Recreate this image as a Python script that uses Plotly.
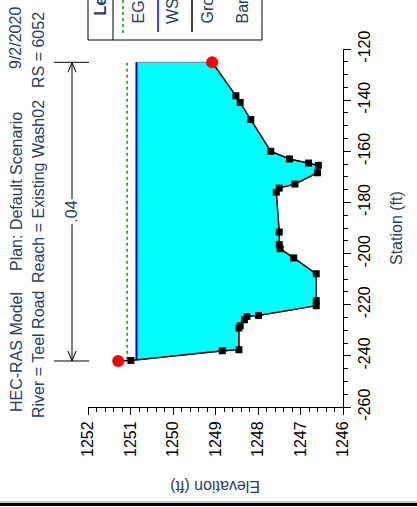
import numpy as np
import plotly.graph_objects as go

# ---------------- data ----------------
station = [-242.0, -241.8, -238.0, -237.6, -229.1, -228.2, -225.9, -224.6, -224.2,
           -220.4, -218.4, -207.9, -201.7, -198.1, -196.5, -191.6, -176.0, -174.4,
           -172.8, -168.4, -165.5, -164.6, -163.0, -160.0, -147.6, -140.9, -138.3, -125.2]
elevation = [1251.29, 1250.99, 1248.84, 1248.45, 1248.45, 1248.42, 1248.32, 1248.26, 1247.99,
             1246.63, 1246.63, 1246.63, 1247.16, 1247.48, 1247.50, 1247.50, 1247.57, 1247.50,
             1247.13, 1246.60, 1246.58, 1246.81, 1247.26, 1247.70, 1248.17, 1248.42, 1248.52, 1249.08]
bank_station = [-242.0, -125.2]
bank_elevation = [1251.29, 1249.08]
ws_elev = 1250.86
eg_elev = 1251.08
n_value_label = ".04"
elev_ticks = [1246, 1247, 1248, 1249, 1250, 1251, 1252]
station_ticks = [-260, -240, -220, -200, -180, -160, -140, -120]
title_line1 = ["HEC-RAS Model", "Plan: Default Scenario", "9/2/2020"]
title_line2 = ["River = Teel Road", "Reach = Existing Wash02", "RS = 6052"]
legend_labels = ["EG", "WS", "Ground", "Bank Sta"]

# ---------------- layout geometry ----------------
W, H = 417, 507
ML, MR, MT, MB = 88, 74, 49, 100
PW, PH = W - ML - MR, H - MT - MB
x_range = [1252, 1246]
y_range = [-260, -120]
FONT = "Liberation Sans, Arial, sans-serif"


def pxx(px):  # pixel x -> paper x
    return (px - ML) / PW


def pxy(py):  # pixel y -> paper y
    return (H - MB - py) / PH


def sta_paper(s):
    return (s - y_range[0]) / (y_range[1] - y_range[0])


# water surface intersection with ground (left end)
st = np.array(station)
el = np.array(elevation)
i = int(np.where(el < ws_elev)[0][0])
s_int = st[i - 1] + (ws_elev - el[i - 1]) * (st[i] - st[i - 1]) / (el[i] - el[i - 1])
fill_st = [s_int] + list(st[i:]) + [st[-1], s_int]
fill_el = [ws_elev] + list(el[i:]) + [ws_elev, ws_elev]

fig = go.Figure()
fig.add_trace(go.Scatter(x=fill_el, y=fill_st, mode="lines", fill="toself",
                         fillcolor="#00FFFF", line=dict(color="#808080", width=1),
                         hoverinfo="skip", showlegend=False))
fig.add_trace(go.Scatter(x=[eg_elev, eg_elev], y=[s_int, st[-1]], mode="lines",
                         line=dict(color="#00A000", width=1.5, dash="dot"), showlegend=False))
fig.add_trace(go.Scatter(x=[ws_elev, ws_elev], y=[s_int, st[-1]], mode="lines",
                         line=dict(color="#0000FF", width=2), showlegend=False))
fig.add_trace(go.Scatter(x=elevation, y=station, mode="lines+markers",
                         line=dict(color="black", width=1.5),
                         marker=dict(symbol="square", size=7, color="black"), showlegend=False))
fig.add_trace(go.Scatter(x=bank_elevation, y=bank_station, mode="markers",
                         marker=dict(symbol="circle", size=12, color="#FF0000"),
                         showlegend=False, cliponaxis=False))

tickfont = dict(family=FONT, size=16, color="black")
fig.update_layout(
    width=W, height=H, margin=dict(l=ML, r=MR, t=MT, b=MB),
    paper_bgcolor="white", plot_bgcolor="white", showlegend=False,
    xaxis=dict(range=x_range, tickvals=elev_ticks, ticktext=[str(v) for v in elev_ticks],
               tickangle=-90, ticks="outside", ticklen=7, tickcolor="black",
               showline=True, linecolor="black", linewidth=1, showgrid=False, zeroline=False,
               minor=dict(dtick=0.2, ticks="outside", ticklen=4, tickcolor="black"),
               tickfont=tickfont),
    yaxis=dict(range=y_range, tickvals=station_ticks, ticktext=[str(v) for v in station_ticks],
               side="right", tickangle=-90, ticks="outside", ticklen=7, tickcolor="black",
               showline=True, linecolor="black", linewidth=1, showgrid=False, zeroline=False,
               minor=dict(dtick=5, ticks="outside", ticklen=4, tickcolor="black"),
               tickfont=tickfont),
)

ann = []
shapes = []
# axis titles
ann.append(dict(text="Station (ft)", x=pxx(396), y=0.5, xref="paper", yref="paper",
                textangle=-90, showarrow=False, font=dict(family=FONT, size=16),
                xanchor="center", yanchor="middle"))
ann.append(dict(text="Elevation (ft)", x=0.5, y=pxy(487), xref="paper", yref="paper",
                textangle=180, showarrow=False, font=dict(family=FONT, size=16),
                xanchor="center", yanchor="middle"))
# title lines (rotated)
for txt, yc in zip(title_line1, [352, 192, 38]):
    ann.append(dict(text=txt, x=pxx(16), y=pxy(yc), xref="paper", yref="paper",
                    textangle=-90, showarrow=False, font=dict(family=FONT, size=16),
                    xanchor="center", yanchor="middle"))
for txt, yc in zip(title_line2, [355, 192, 50]):
    ann.append(dict(text=txt, x=pxx(38), y=pxy(yc), xref="paper", yref="paper",
                    textangle=-90, showarrow=False, font=dict(family=FONT, size=16),
                    xanchor="center", yanchor="middle"))

# n-value dimension line
nx = pxx(72)
y_lo = sta_paper(min(station))
y_hi = sta_paper(max(station))
shapes.append(dict(type="line", xref="paper", yref="paper", x0=nx, x1=nx, y0=y_lo, y1=y_hi,
                   line=dict(color="black", width=1)))
for yy in (y_lo, y_hi):
    shapes.append(dict(type="line", xref="paper", yref="paper", x0=pxx(54), x1=pxx(89),
                       y0=yy, y1=yy, line=dict(color="black", width=1)))
shapes.append(dict(type="path", xref="paper", yref="paper", xsizemode="pixel", ysizemode="pixel",
                   xanchor=nx, yanchor=y_lo, path="M-4,10 L0,0 L4,10",
                   line=dict(color="black", width=1)))
shapes.append(dict(type="path", xref="paper", yref="paper", xsizemode="pixel", ysizemode="pixel",
                   xanchor=nx, yanchor=y_hi, path="M-4,-10 L0,0 L4,-10",
                   line=dict(color="black", width=1)))
ann.append(dict(text=n_value_label, x=nx, y=(y_lo + y_hi) / 2, xref="paper", yref="paper",
                textangle=-90, showarrow=False, font=dict(family=FONT, size=16),
                bgcolor="white", xanchor="center", yanchor="middle"))

# legend box (partially off the top edge)
shapes.append(dict(type="rect", xref="paper", yref="paper", x0=pxx(88), x1=pxx(262),
                   y0=pxy(40), y1=pxy(-20), line=dict(color="black", width=1), fillcolor="white"))
shapes.append(dict(type="line", xref="paper", yref="paper", x0=pxx(113), x1=pxx(113),
                   y0=pxy(40), y1=pxy(-20), line=dict(color="black", width=1)))
shapes.append(dict(type="line", xref="paper", yref="paper", x0=pxx(123), x1=pxx(123),
                   y0=pxy(33), y1=pxy(-5), line=dict(color="#00A000", width=1.5, dash="dot")))
shapes.append(dict(type="line", xref="paper", yref="paper", x0=pxx(158), x1=pxx(158),
                   y0=pxy(32), y1=pxy(-5), line=dict(color="#0000FF", width=1.5)))
shapes.append(dict(type="line", xref="paper", yref="paper", x0=pxx(192), x1=pxx(192),
                   y0=pxy(32), y1=pxy(-5), line=dict(color="black", width=1.5)))
ann.append(dict(text="<b>Legend</b>", x=pxx(100), y=pxy(18), xref="paper", yref="paper",
                textangle=-90, showarrow=False, font=dict(family=FONT, size=16),
                xanchor="center", yanchor="bottom"))
for txt, xc in zip(legend_labels, [138, 172, 207, 242]):
    ann.append(dict(text=txt, x=pxx(xc), y=pxy(26), xref="paper", yref="paper",
                    textangle=-90, showarrow=False, font=dict(family=FONT, size=16),
                    xanchor="center", yanchor="bottom"))

# bottom frame line
shapes.append(dict(type="line", xref="paper", yref="paper", x0=pxx(-5), x1=pxx(W + 5),
                   y0=pxy(502), y1=pxy(502), line=dict(color="#909090", width=1)))
shapes.append(dict(type="line", xref="paper", yref="paper", x0=pxx(-5), x1=pxx(W + 5),
                   y0=pxy(504.5), y1=pxy(504.5), line=dict(color="black", width=3)))

fig.update_layout(annotations=ann, shapes=shapes)
fig.write_html("out.html")
